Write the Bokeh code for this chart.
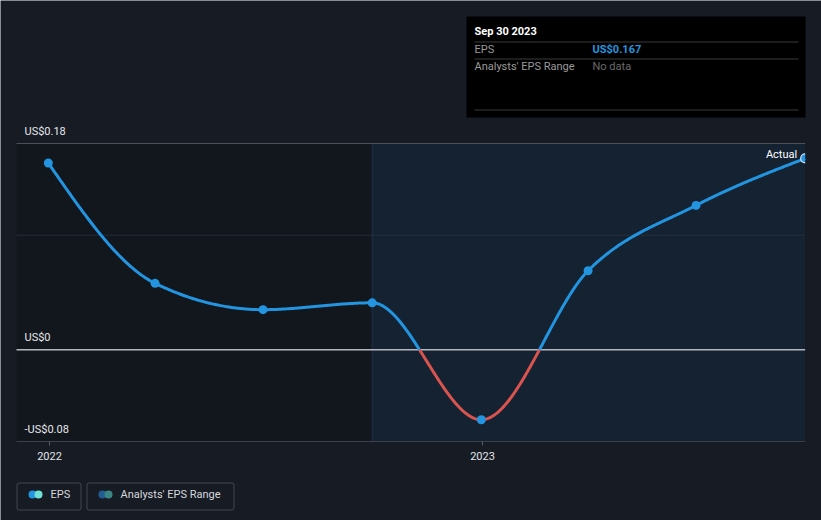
import numpy as np
from bokeh.plotting import figure
from bokeh.models import Range1d, BoxAnnotation, Label
from bokeh.embed import file_html
from bokeh.resources import INLINE

# ---------------- data ----------------
dates = ["2021-12-31", "2022-03-31", "2022-06-30", "2022-09-30",
         "2022-12-31", "2023-03-31", "2023-06-30", "2023-09-30"]
eps = [0.163, 0.058, 0.035, 0.041, -0.061, 0.069, 0.126, 0.167]
y_label_values = [0.18, 0.0, -0.08]
y_label_texts = ["US$0.18", "US$0", "-US$0.08"]
y_extra_grid = [0.1]
x_tick_dates = ["2022-01-01", "2023-01-01"]
x_tick_labels = ["2022", "2023"]
forecast_start = "2022-09-30"
tooltip_title = "Sep 30 2023"
tooltip_eps = "US$0.167"
legend_items = ["EPS", "Analysts' EPS Range"]

FONT = "Roboto"
BG = "#161b24"
BLUE = "#2394df"
RED = "#d9534f"
W, H = 821, 520
BASELINE_FIX = 4  # rendered alphabetic baseline sits a few px low


def ms(s):
    return float((np.datetime64(s) - np.datetime64("1970-01-01T00:00:00")) / np.timedelta64(1, "ms"))


xs = np.array([ms(d) for d in dates])
ys = np.array(eps, dtype=float)

# ---- scales: the whole canvas is the frame; plot area spans px 16..805 / 143..441 ----
DAY = 86400000.0
MS_PER_PX = 365 * DAY / 433.0
y_top_val, y_bot_val = y_label_values[0], y_label_values[-1]
UNIT_PER_PX = (y_top_val - y_bot_val) / 298.0
x_ref = ms(x_tick_dates[0])          # at px 49
x_end = xs[-1]                       # plot area right edge (px 805)


def X(px):
    return x_ref + (px - 49) * MS_PER_PX


def Y(py):
    return y_top_val - (py - 143) * UNIT_PER_PX


x_plot_start = X(16)


# monotone-x cubic curve through the points (d3 curveMonotoneX)
def monotone_curve(x, y, steps=80):
    n = len(x)
    h = np.diff(x)
    s = np.diff(y) / h
    sg = lambda v: -1.0 if v < 0 else 1.0
    t = np.zeros(n)
    for i in range(1, n - 1):
        p_ = (s[i - 1] * h[i] + s[i] * h[i - 1]) / (h[i - 1] + h[i])
        t[i] = (sg(s[i - 1]) + sg(s[i])) * min(abs(s[i - 1]), abs(s[i]), 0.5 * abs(p_))
    t[0] = (3 * s[0] - t[1]) / 2
    t[-1] = (3 * s[-1] - t[-2]) / 2
    bx, by = [], []
    for i in range(n - 1):
        dx = h[i] / 3
        p0x, p0y = x[i], y[i]
        p1x, p1y = x[i] + dx, y[i] + dx * t[i]
        p2x, p2y = x[i + 1] - dx, y[i + 1] - dx * t[i + 1]
        p3x, p3y = x[i + 1], y[i + 1]
        u = np.linspace(0, 1, steps)
        if i < n - 2:
            u = u[:-1]
        a, b, c, d = (1 - u) ** 3, 3 * (1 - u) ** 2 * u, 3 * (1 - u) * u ** 2, u ** 3
        bx.extend(a * p0x + b * p1x + c * p2x + d * p3x)
        by.extend(a * p0y + b * p1y + c * p2y + d * p3y)
    return np.array(bx), np.array(by)


cx, cy = monotone_curve(xs, ys)
runs_x, runs_y, runs_c = [], [], []
cur_x, cur_y = [cx[0]], [cy[0]]
neg = cy[0] < 0
for j in range(1, len(cx)):
    nneg = cy[j] < 0
    if nneg != neg:
        f = cy[j - 1] / (cy[j - 1] - cy[j])
        xc = cx[j - 1] + f * (cx[j] - cx[j - 1])
        cur_x.append(xc); cur_y.append(0.0)
        runs_x.append(cur_x); runs_y.append(cur_y); runs_c.append(RED if neg else BLUE)
        cur_x, cur_y = [xc], [0.0]
        neg = nneg
    cur_x.append(cx[j]); cur_y.append(cy[j])
runs_x.append(cur_x); runs_y.append(cur_y); runs_c.append(RED if neg else BLUE)

# ---------------- figure ----------------
p = figure(width=W, height=H, x_range=Range1d(X(0), X(W)), y_range=Range1d(Y(H), Y(0)),
           output_backend="svg", toolbar_location=None, min_border=0)
p.background_fill_color = BG
p.border_fill_color = BG
p.outline_line_color = None
p.grid.visible = False
p.axis.visible = False


def box(l, r, t, b, fill=None, line=None, radius=0, lw=1, level="underlay"):
    p.add_layout(BoxAnnotation(left=l, right=r, top=t, bottom=b,
                               fill_color=fill, fill_alpha=1 if fill else 0,
                               line_color=line, line_alpha=1 if line else 0, line_width=lw,
                               border_radius=int(radius), level=level))


def text(t, x, y, color, size="11px", bold=False, align="left", xo=0, yo=0):
    p.add_layout(Label(x=x, y=y, x_offset=xo, y_offset=yo + BASELINE_FIX, text=t, text_color=color,
                       text_font=FONT, text_font_size=size, text_font_style="bold" if bold else "normal",
                       text_align=align, text_baseline="alphabetic", level="overlay"))


# plot-area backgrounds
fs = ms(forecast_start)
box(x_plot_start, fs, y_top_val, y_bot_val, fill="#12161d")
box(fs, x_end, y_top_val, y_bot_val, fill="#142231")

# grid lines / axis line
p.segment([fs], [y_bot_val], [fs], [y_top_val], line_color="#1c3550", line_width=1)
p.segment([x_plot_start], [y_top_val], [x_end], [y_top_val], line_color="#4b5059", line_width=1)
for v in y_extra_grid:
    p.segment([x_plot_start], [v], [x_end], [v], line_color="#262d38", line_width=1)
p.segment([x_plot_start], [y_bot_val], [x_end], [y_bot_val], line_color="#3c4149", line_width=1)
p.segment([x_plot_start], [0], [x_end], [0], line_color="#b4b8be", line_width=1.5)

# x ticks + labels
tick_x = [ms(d) for d in x_tick_dates]
p.segment(tick_x, [y_bot_val] * len(tick_x), tick_x, [Y(445)] * len(tick_x), line_color="#5a5f67", line_width=1)
for tx, tl in zip(tick_x, x_tick_labels):
    text(tl, tx, Y(459), "#e2e4e8", align="center")

# y labels
for v, t in zip(y_label_values, y_label_texts):
    text(t, X(24), v, "#e6e8ec", yo=8.5)

# curve and points
p.multi_line(runs_x, runs_y, line_color=runs_c, line_width=3, line_cap="butt", line_join="round")
p.scatter(xs[:-1], ys[:-1], size=9, fill_color=BLUE, line_color=None)
# last point clipped at plot-area edge: left half only
p.wedge(xs[-1:], ys[-1:], radius=4.5, radius_units="screen", start_angle=np.pi / 2, end_angle=3 * np.pi / 2,
        fill_color=BLUE, line_color=None)
p.arc(xs[-1:], ys[-1:], radius=4.5, radius_units="screen", start_angle=np.pi / 2, end_angle=3 * np.pi / 2,
      line_color="#cfe6f8", line_width=1.2)

text("Actual", x_end, ys[-1], "#ffffff", align="right", xo=-8, yo=0)

# tooltip
box(X(466), X(805), Y(16), Y(117), fill="#000000", level="annotation")
for yy in (41, 58, 109):
    box(X(474), X(798), Y(yy), Y(yy + 1), fill="#3a3a3a", level="annotation")
text(tooltip_title, X(474), Y(35), "#ffffff", bold=True)
text("EPS", X(474), Y(53), "#9a9a9a")
text(tooltip_eps, X(592), Y(53), BLUE, bold=True)
text("Analysts' EPS Range", X(474), Y(70), "#9a9a9a")
text("No data", X(592), Y(70), "#6a6a6a")

# legend
box(X(16.5), X(80.5), Y(482.5), Y(509.5), line="#42474f", radius=2, level="annotation")
box(X(86.5), X(233.5), Y(482.5), Y(509.5), line="#42474f", radius=2, level="annotation")
box(X(28), X(36), Y(490), Y(498), fill=BLUE, radius=4, level="annotation")
box(X(34), X(42), Y(490), Y(498), fill="#6fe0d3", radius=4, level="annotation")
box(X(98), X(106), Y(490), Y(498), fill="#1f5d93", radius=4, level="annotation")
box(X(104), X(112), Y(490), Y(498), fill="#3b8683", radius=4, level="annotation")
text(legend_items[0], X(50), Y(498), "#d6d8dc")
text(legend_items[1], X(120), Y(498), "#d6d8dc")

open("out.html", "w").write(file_html(p, INLINE))
